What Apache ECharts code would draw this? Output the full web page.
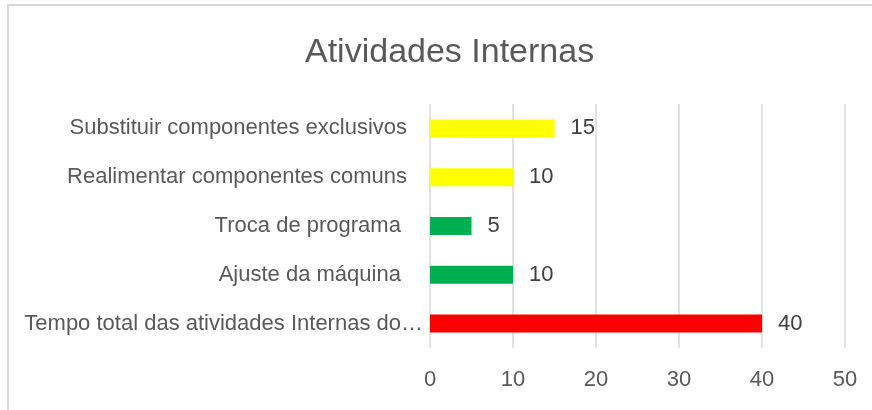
<!DOCTYPE html>
<html>
<head>
<meta charset="utf-8">
<script src="https://cdn.jsdelivr.net/npm/echarts@6/dist/echarts.min.js"></script>
<style>html,body{margin:0;padding:0;background:#fff}#c{width:872px;height:410px}</style>
</head>
<body>
<div id="c"></div>
<script>
const title = 'Atividades Internas';
const categories = [
  'Substituir componentes exclusivos',
  'Realimentar componentes comuns',
  'Troca de programa ',
  'Ajuste da máquina ',
  'Tempo total das atividades Internas do…'
];
const values = [15, 10, 5, 10, 40];
const barColors = ['#FFFF00', '#FFFF00', '#00B050', '#00B050', '#FF0000'];
const xTicks = [0, 10, 20, 30, 40, 50];

const FONT = '"Liberation Sans", Arial, sans-serif';
const chart = echarts.init(document.getElementById('c'), null, {renderer: 'canvas'});
chart.setOption({
  animation: false,
  backgroundColor: '#ffffff',
  textStyle: {fontFamily: FONT},
  title: {
    text: title,
    left: 300,
    top: 31,
    textStyle: {fontFamily: FONT, fontSize: 34, fontWeight: 'normal', color: '#595959'}
  },
  graphic: [{
    type: 'rect',
    shape: {x: 8, y: 5, width: 900, height: 500},
    style: {fill: 'none', stroke: '#d9d9d9', lineWidth: 2},
    silent: true
  }],
  grid: {left: 430, right: 27, top: 104, bottom: 62},
  xAxis: {
    type: 'value',
    min: xTicks[0],
    max: xTicks[xTicks.length - 1],
    interval: 10,
    axisLine: {show: false},
    axisTick: {show: false},
    splitLine: {show: true, lineStyle: {color: '#d9d9d9', width: 1.5}},
    axisLabel: {margin: 21, fontSize: 22, color: '#595959', fontFamily: FONT}
  },
  yAxis: {
    type: 'category',
    inverse: true,
    data: categories,
    axisLine: {show: false},
    axisTick: {show: false},
    axisLabel: {
      margin: 7,
      fontSize: 22,
      color: '#595959',
      fontFamily: FONT,
      formatter: function (v) {
        return v.indexOf('…') >= 0 ? '{t|' + v + '}' : '{n|' + v + '}';
      },
      rich: {
        n: {fontSize: 22, color: '#595959', fontFamily: FONT, padding: [0, 16, 0, 0]},
        t: {fontSize: 22, color: '#595959', fontFamily: FONT}
      }
    }
  },
  series: [{
    type: 'bar',
    barWidth: 18,
    data: values.map((v, i) => ({value: v, itemStyle: {color: barColors[i]}})),
    label: {
      show: true,
      position: 'right',
      distance: 16,
      fontSize: 22,
      color: '#404040',
      fontFamily: FONT
    }
  }]
});
</script>
</body>
</html>
